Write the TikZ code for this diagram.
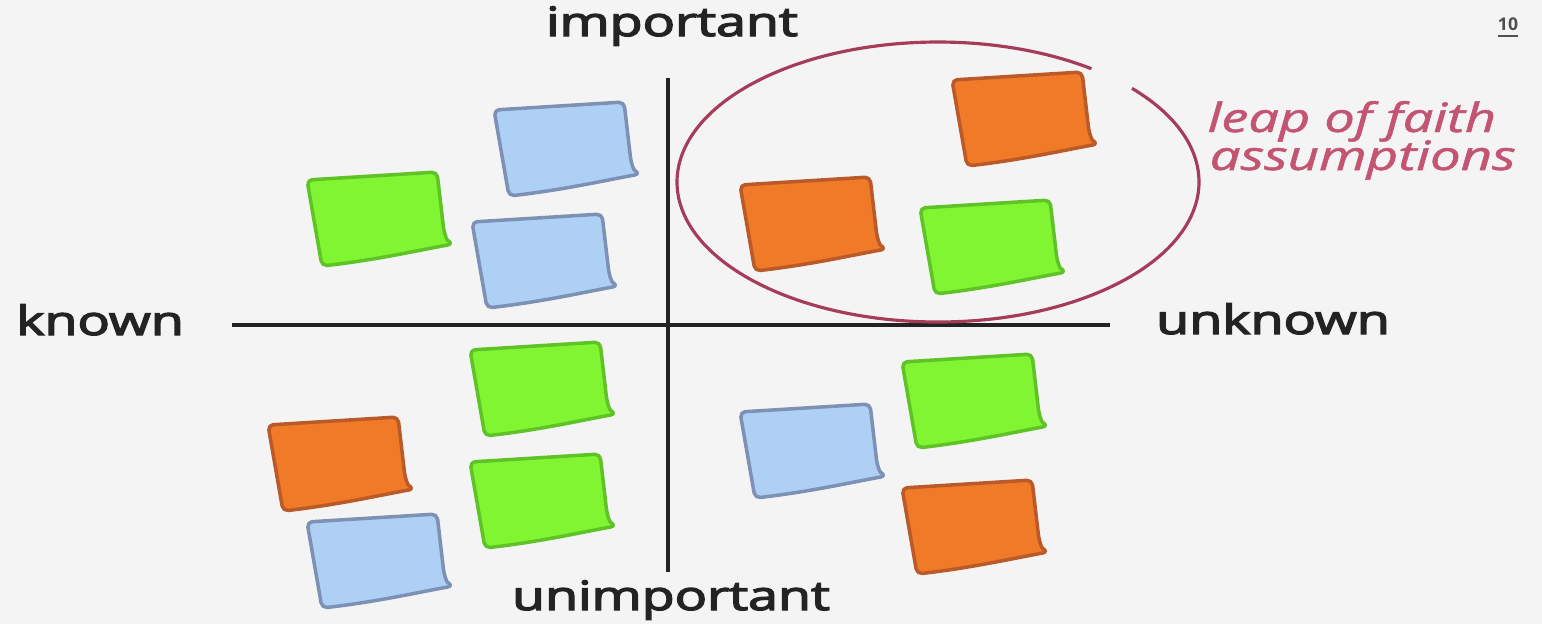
\documentclass[tikz,border=0pt]{standalone}
\usepackage{fontspec}
\setmainfont{Open Sans}
\newfontfamily\semifont[BoldFont={Open Sans}, BoldFeatures={FakeBold=3}, ItalicFont={Open Sans Italic}, ItalicFeatures={FakeBold=1.2}]{Open Sans}
\usepackage{tikz}

\definecolor{pagebg}{RGB}{244,244,244}
\definecolor{axisgray}{RGB}{35,35,35}
\definecolor{notebluefill}{RGB}{175,208,245}
\definecolor{notebluedraw}{RGB}{125,145,180}
\definecolor{notegreenfill}{RGB}{130,245,50}
\definecolor{notegreendraw}{RGB}{95,195,40}
\definecolor{noteorangefill}{RGB}{240,122,40}
\definecolor{noteorangedraw}{RGB}{185,90,40}
\definecolor{leapred}{RGB}{165,60,90}
\definecolor{leaptext}{RGB}{195,85,115}

\newcommand{\widen}[2]{\scalebox{#1}[1]{#2}}

\begin{document}
\begin{tikzpicture}[
    x=0.01cm, y=-0.01cm,
    axislabel/.style={font=\fontsize{11.5}{14}\selectfont\semifont\bfseries, text=axisgray, anchor=base, inner sep=0pt},
    leaplabel/.style={font=\fontsize{11.5}{14}\selectfont\semifont\itshape, text=leaptext, anchor=base west, inner sep=0pt},
    axisline/.style={draw=axisgray, line width=1.2pt},
    notebase/.style={line width=1pt, line join=round, rounded corners=1.5pt},
    bluenote/.style={notebase, fill=notebluefill, draw=notebluedraw},
    greennote/.style={notebase, fill=notegreenfill, draw=notegreendraw},
    orangenote/.style={notebase, fill=noteorangefill, draw=noteorangedraw},
]
    % page
    \fill[pagebg] (0,0) rectangle (1542,624);
    \useasboundingbox (0,0) rectangle (1542,624);

    % sticky notes
    \foreach \cx/\cy/\kind in {562/150/bluenote, 375/220/greennote, 540/262/bluenote,
                               1020/120/orangenote, 808/225/orangenote, 988/248/greennote,
                               538/390/greennote, 336/465/orangenote, 538/502/greennote, 375/562/bluenote,
                               808/452/bluenote, 970/402/greennote, 970/528/orangenote} {
        \draw[\kind, shift={(\cx,\cy)}] (-68,-40) -- (62,-48) -- (69,12)
            .. controls (72,20) .. (78,24)
            .. controls (40,31) and (0,40) .. (-53,46) -- cycle;
    }

    % axes
    \coordinate (west) at (232,325);
    \coordinate (east) at (1110,325);
    \coordinate (north) at (668,78);
    \coordinate (south) at (668,572);
    \draw[axisline] (west) -- (east);
    \draw[axisline] (north) -- (south);

    % axis labels
    \node[axislabel] (important) at (672,36) {\widen{1.33}{important}};
    \node[axislabel] (unimportant) at (671,610) {\widen{1.33}{unimportant}};
    \node[axislabel] (known) at (100,335) {\widen{1.33}{known}};
    \node[axislabel] (unknown) at (1273,334) {\widen{1.33}{unknown}};

    % leap of faith
    \draw[leapred, line width=0.9pt] (938,182) ++(-42:261 and 140)
        arc[start angle=-42, end angle=306, x radius=261, y radius=140];
    \node[leaplabel] (leap) at (1207,132) {\widen{1.34}{leap of faith}};
    \node[leaplabel] (assume) at (1209,170) {\widen{1.35}{assumptions}};

    % slide number
    \node[font=\fontsize{5}{6}\selectfont\bfseries, text=axisgray!80, inner sep=1pt] (pagenum) at (1508,28) {\underline{10}};
\end{tikzpicture}
\end{document}
